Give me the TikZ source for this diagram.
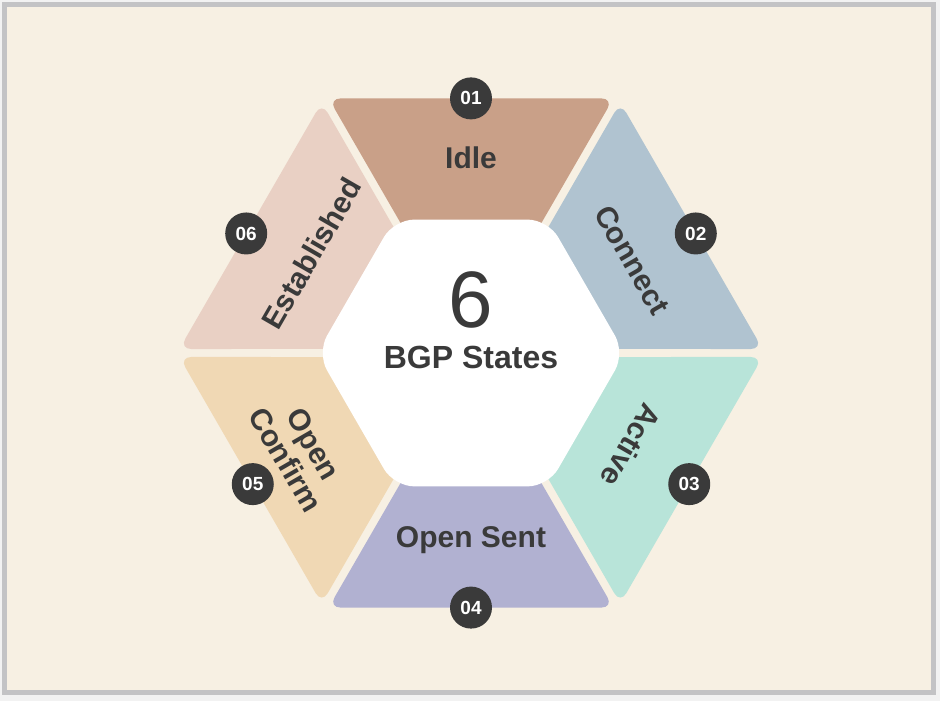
\documentclass[tikz,border=0pt]{standalone}
\usepackage{fontspec}
\setmainfont{Liberation Sans}
\usepackage{xcolor}
\definecolor{paper}{HTML}{F7F0E3}
\definecolor{rim}{HTML}{C3C3C5}
\definecolor{ink}{HTML}{3A3A3A}
\definecolor{cidle}{HTML}{C9A088}
\definecolor{cconnect}{HTML}{B0C3D0}
\definecolor{cactive}{HTML}{B8E4D9}
\definecolor{csent}{HTML}{B1B1D1}
\definecolor{cconfirm}{HTML}{F0D8B4}
\definecolor{cestab}{HTML}{E9D0C4}
\tikzset{
  seglabel/.style={text=ink, align=center, font=\bfseries\fontsize{30}{32}\selectfont},
  badge/.style={circle, fill=ink, text=white, minimum size=42pt, inner sep=0pt, font=\bfseries\fontsize{19}{19}\selectfont}
}

\begin{document}
\begin{tikzpicture}[x=1pt, y=1pt]
  \useasboundingbox (0,0) rectangle (940,701);
  \fill[black!5] (0,0) rectangle (940,701);
  \draw[rim, fill=paper, line width=5pt] (4.5,8.5) rectangle (933.5,696.5);
  \begin{scope}[shift={(471,348)}]
    \foreach \a/\c in {0/cidle,-60/cconnect,-120/cactive,180/csent,120/cconfirm,60/cestab}
      {\fill[\c, rotate=\a, rounded corners=12pt] (-142.4,254.6) -- (142.4,254.6) -- (47.3,90) -- (-47.3,90) -- cycle;}
    \fill[white, rounded corners=20pt] (0:154) -- (60:154) -- (120:154) -- (180:154) -- (240:154) -- (300:154) -- cycle;
    \node[text=ink, font=\fontsize{80}{80}\selectfont] (six) at (0,53) {6};
    \node[text=ink, font=\bfseries\fontsize{32}{34}\selectfont] (title) at (0,-4) {BGP States};
    \node[seglabel] (idle) at (90:195) {Idle};
    \node[seglabel, rotate=-60] (connect) at (30:186) {Connect};
    \node[seglabel, rotate=-120] (active) at (-30:185) {Active};
    \node[seglabel] (opensent) at (-90:187) {Open Sent};
    \node[seglabel, rotate=-60] (openconfirm) at (210:198) {Open\\Confirm};
    \node[seglabel, rotate=60] (established) at (148:188) {Established};
    \foreach \n/\a in {1/90,2/28,3/-31,4/-90,5/211,6/152}
      {\node[badge] (b\n) at (\a:254.6) {0\n};}
  \end{scope}
\end{tikzpicture}
\end{document}
